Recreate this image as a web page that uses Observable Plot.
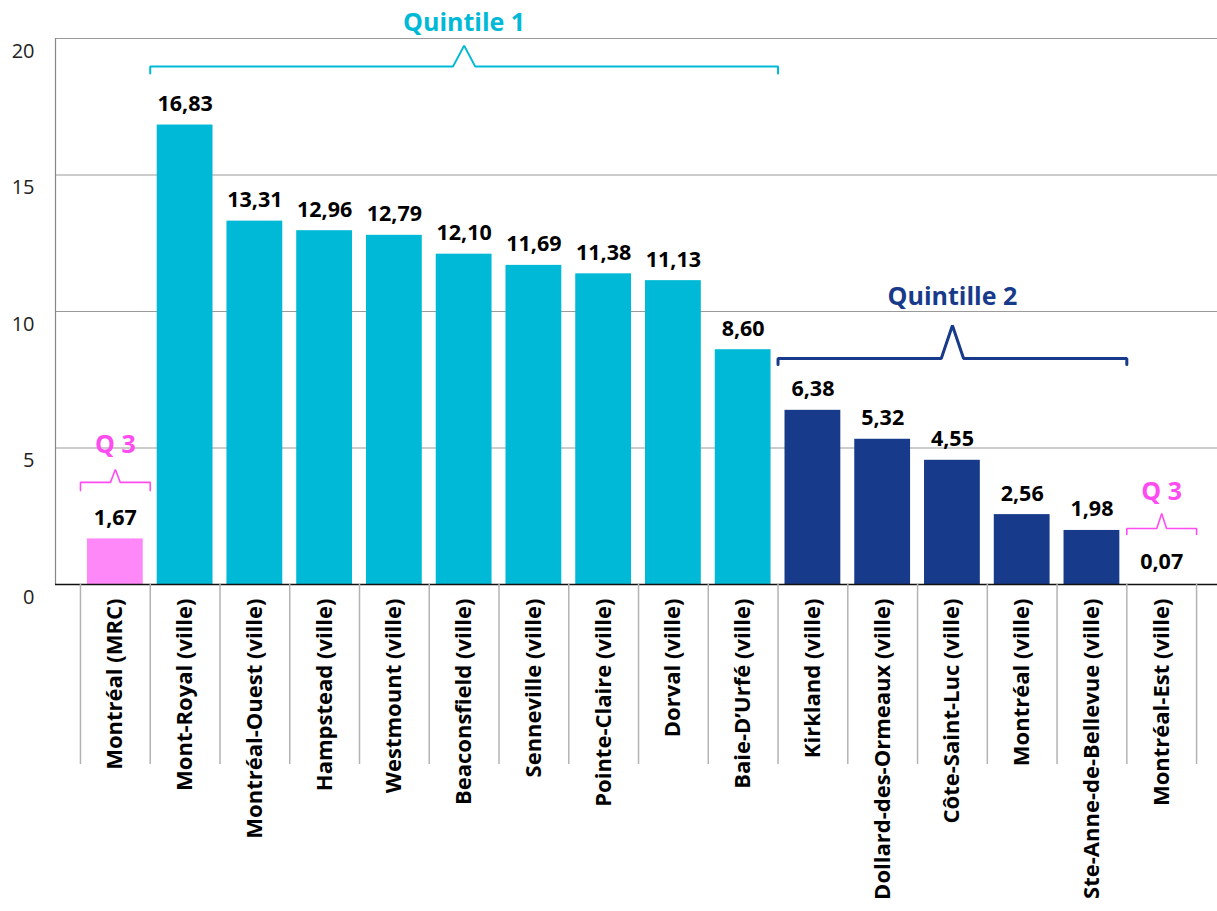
<!DOCTYPE html>
<html>
<head>
<meta charset="utf-8">
<script src="https://cdn.jsdelivr.net/npm/d3@7"></script>
<script src="https://cdn.jsdelivr.net/npm/@observablehq/plot@0.6"></script>
<style>
  html, body { margin: 0; padding: 0; background: #fff; }
  svg { display: block; font-family: "Open Sans", sans-serif; }
</style>
</head>
<body>
<div id="chart"></div>
<script>
const categories = [
  "Montréal (MRC)", "Mont-Royal (ville)", "Montréal-Ouest (ville)", "Hampstead (ville)",
  "Westmount (ville)", "Beaconsfield (ville)", "Senneville (ville)", "Pointe-Claire (ville)",
  "Dorval (ville)", "Baie-D’Urfé (ville)", "Kirkland (ville)", "Dollard-des-Ormeaux (ville)",
  "Côte-Saint-Luc (ville)", "Montréal (ville)", "Ste-Anne-de-Bellevue (ville)", "Montréal-Est (ville)"
];
const values = [1.67, 16.83, 13.31, 12.96, 12.79, 12.10, 11.69, 11.38, 11.13, 8.60, 6.38, 5.32, 4.55, 2.56, 1.98, 0.07];
const quintiles = [3, 1, 1, 1, 1, 1, 1, 1, 1, 1, 2, 2, 2, 2, 2, 3];
const yTicks = [0, 5, 10, 15, 20];

// group brackets: index range, bracket level, end drop, peak, label baseline
const groupLabels = ["Q 3", "Quintile 1", "Quintille 2", "Q 3"];
const groupFrom   = [-0.5, 0.5, 9.5, 14.5];
const groupTo     = [0.5, 9.5, 14.5, 15.5];
const groupLevel  = [3.74, 18.97, 8.28, 2.05];
const groupEnd    = [3.44, 18.72, 8.06, 1.83];
const groupPeak   = [4.21, 19.74, 9.49, 2.60];
const groupText   = [4.80, 20.29, 10.22, 3.08];
const groupColors = ["#FF4CF0", "#00B9D6", "#173A8A", "#FF4CF0"];
const groupWidth  = [1.6, 2, 3, 1.6];

const data = categories.map((c, i) => ({i, name: c, value: values[i], q: quintiles[i]}));
const fmt = v => d3.format(".2f")(v).replace(".", ",");

const brackets = [];
groupLabels.forEach((g, k) => {
  const mid = (groupFrom[k] + groupTo[k]) / 2;
  const hw = k === 0 || k === 3 ? 0.07 : 0.16;
  const pts = [
    [groupFrom[k], groupEnd[k]], [groupFrom[k], groupLevel[k]],
    [mid - hw, groupLevel[k]], [mid, groupPeak[k]], [mid + hw, groupLevel[k]],
    [groupTo[k], groupLevel[k]], [groupTo[k], groupEnd[k]]
  ];
  pts.forEach(([x, y]) => brackets.push({k, x, y}));
});
const groupData = groupLabels.map((g, k) => ({k, label: g, x: (groupFrom[k] + groupTo[k]) / 2, y: groupText[k]}));

const xDomain = [-0.858, 15.80];
const sepTicks = d3.range(-0.5, 15.51, 1);

const chart = Plot.plot({
  width: 1217,
  height: 911,
  marginLeft: 55,
  marginRight: 0,
  marginTop: 38,
  marginBottom: 327,
  style: {fontFamily: "'Open Sans', sans-serif", background: "#fff"},
  x: {type: "linear", domain: xDomain, axis: null},
  y: {domain: [0, 20], axis: null},
  color: {domain: [1, 2, 3], range: ["#00B9D7", "#173A8A", "#FF88F8"]},
  marks: [
    Plot.gridY(yTicks.filter(d => d > 0), {stroke: "#9a9a9a", strokeOpacity: 1, strokeWidth: 1.2}),
    Plot.ruleX([xDomain[0]], {y1: 0, y2: 20, stroke: "#888", strokeWidth: 1.2}),
    Plot.axisY({ticks: yTicks, tickSize: 0, tickPadding: 21, dy: 13, fontSize: 20, color: "#222", textAnchor: "end"}),
    Plot.rectY(data, {x1: d => d.i - 0.4, x2: d => d.i + 0.4, y1: 0, y2: "value", fill: d => d.i === 15 ? "#E66AE6" : d.q}),
    Plot.ruleY([0], {stroke: "#111", strokeWidth: 1.6}),
    Plot.axisX({ticks: sepTicks, tickSize: 180, text: null, stroke: "#b3b3b3", strokeWidth: 1.5}),
    Plot.axisX({
      ticks: d3.range(0, 16), tickSize: 0, tickPadding: 14,
      tickFormat: i => categories[i], rotate: -90, textAnchor: "end", lineAnchor: "middle",
      fontSize: 22, fontWeight: "bold", fill: "#000"
    }),
    Plot.text(data, {x: "i", y: "value", text: d => fmt(d.value), lineAnchor: "bottom", dy: -14,
      fontSize: 21.5, fontWeight: "bold", fill: "#000"}),
    Plot.line(brackets, {x: "x", y: "y", z: "k", stroke: d => groupColors[d.k], strokeWidth: d => groupWidth[d.k], strokeLinejoin: "miter"}),
    Plot.text(groupData, {x: "x", y: "y", text: "label", lineAnchor: "bottom", fontSize: 25, fontWeight: "bold", fill: d => groupColors[d.k]})
  ]
});
document.getElementById("chart").appendChild(chart);
</script>
</body>
</html>
